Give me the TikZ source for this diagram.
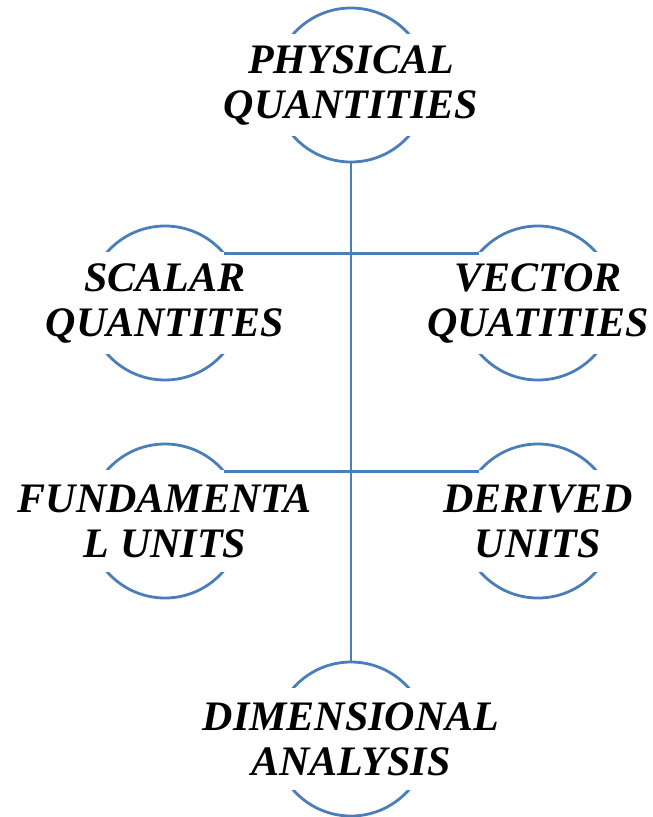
\documentclass[tikz,border=0pt]{standalone}
\usepackage{fontspec}
\setmainfont{Liberation Serif}
\usepackage{tikz}
\usepackage{xcolor}
\definecolor{qblue}{RGB}{74,126,187}

\begin{document}
\begin{tikzpicture}[x=1pt,y=-1pt,
      ring/.style={draw=qblue,line width=2.8pt,circle,minimum size=154pt,inner sep=0pt,outer sep=0pt},
      lbl/.style={fill=white,align=center,inner sep=0pt,minimum height=102pt,font=\fontsize{42}{45}\selectfont\bfseries\itshape},
      link/.style={draw=qblue,line width=2.8pt}]
    \useasboundingbox (0,0) rectangle (653,817);
    % circles
    \node[ring] (pq) at (351,85) {};
    \node[ring] (sq) at (165,303) {};
    \node[ring] (vq) at (538,303) {};
    \node[ring] (fu) at (165,521) {};
    \node[ring] (du) at (538,521) {};
    \node[ring] (da) at (351,739) {};
    % labels over the circles
    \node[lbl] (pqt) at (pq) {PHYSICAL\\QUANTITIES};
    \node[lbl] (sqt) at (sq) {SCALAR\\QUANTITES};
    \node[lbl] (vqt) at (vq) {VECTOR\\QUATITIES};
    \node[lbl] (fut) at (fu) {FUNDAMENTA\\L UNITS};
    \node[lbl] (dut) at (du) {DERIVED\\UNITS};
    \node[lbl] (dat) at (da) {DIMENSIONAL\\ANALYSIS};
    % connectors
    \draw[link] (pq.south) -- (da.north);
    \draw[link] (sq.40) -- (vq.140);
    \draw[link] (fu.40) -- (du.140);
\end{tikzpicture}
\end{document}
